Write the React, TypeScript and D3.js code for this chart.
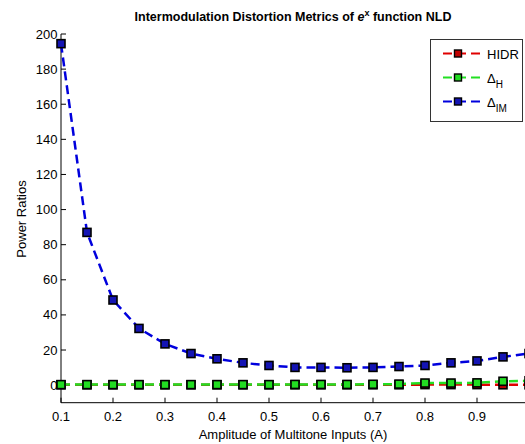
import { useMemo } from "react";
import * as d3 from "d3";

// ── Data ─────────────────────────────────────────────
const AMPLITUDE = [0.1, 0.15, 0.2, 0.25, 0.3, 0.35, 0.4, 0.45, 0.5, 0.55, 0.6, 0.65, 0.7, 0.75, 0.8, 0.85, 0.9, 0.95, 1.0];
const HIDR = [0.2, 0.2, 0.2, 0.2, 0.2, 0.2, 0.2, 0.2, 0.2, 0.2, 0.2, 0.2, 0.2, 0.2, 0.3, 0.3, 0.3, 0.2, 0.2];
const DELTA_H = [0.3, 0.3, 0.3, 0.3, 0.3, 0.3, 0.3, 0.3, 0.3, 0.4, 0.4, 0.4, 0.5, 0.6, 1.2, 1.2, 1.3, 2.2, 2.5];
const DELTA_IM = [194.5, 87, 48.5, 32.3, 23.5, 18, 15, 12.7, 11.2, 10.1, 10.1, 9.9, 10.1, 10.6, 11.2, 12.7, 13.8, 16.1, 18];

// 1.0 sits just past the window's right edge, so its label is not shown
const X_TICKS = [0.1, 0.2, 0.3, 0.4, 0.5, 0.6, 0.7, 0.8, 0.9];
const Y_TICKS = [0, 20, 40, 60, 80, 100, 120, 140, 160, 180, 200];

const SERIES = [
  { key: "HIDR", values: HIDR, line: "#e00000", face: "#c00000" },
  { key: "H", values: DELTA_H, line: "#22e022", face: "#22dd22" },
  { key: "IM", values: DELTA_IM, line: "#0000dd", face: "#1414b4" },
];

// ── Geometry ─────────────────────────────────────────
const W = 525;
const H = 444;
const PLOT = { left: 61, right: 529, top: 34, bottom: 402.7 };
const FONT = "'Liberation Sans', Arial, Helvetica, sans-serif";
const MS = 8;

export default function App() {
  const x = useMemo(() => d3.scaleLinear().domain([0.1, 1.0]).range([PLOT.left, PLOT.right]), []);
  const y = useMemo(() => d3.scaleLinear().domain([-10, 200]).range([PLOT.bottom, PLOT.top]), []);

  const line = d3
    .line<number>()
    .x((_, i) => x(AMPLITUDE[i]))
    .y((d) => y(d));

  const fmt = d3.format(".1f");

  return (
    <div style={{ position: "absolute", left: 0, top: 0, width: W, height: H, background: "#fff" }}>
      <svg width={W} height={H} style={{ display: "block", fontFamily: FONT }}>
        <rect width={W} height={H} fill="#fff" />

        {/* Title */}
        <text x={293} y={20.5} textAnchor="middle" fontSize={12.5} fontWeight="bold" fill="#000">
          Intermodulation Distortion Metrics of{" "}
          <tspan fontStyle="italic">e</tspan>
          <tspan fontSize={9} dy={-5}>x</tspan>
          <tspan dy={5}> function NLD</tspan>
        </text>

        {/* Axes */}
        <line x1={PLOT.left} x2={W} y1={PLOT.bottom} y2={PLOT.bottom} stroke="#000" strokeWidth={1} />
        <line x1={PLOT.left} x2={PLOT.left} y1={PLOT.top} y2={PLOT.bottom} stroke="#000" strokeWidth={1} />

        {X_TICKS.map((t) => (
          <g key={`xt-${t}`}>
            <line x1={x(t)} x2={x(t)} y1={PLOT.bottom} y2={PLOT.bottom - 5} stroke="#000" />
            <text x={x(t)} y={420.5} textAnchor="middle" fontSize={13} fill="#000">
              {fmt(t)}
            </text>
          </g>
        ))}
        {Y_TICKS.map((t) => (
          <g key={`yt-${t}`}>
            <line x1={PLOT.left} x2={PLOT.left + 5} y1={y(t)} y2={y(t)} stroke="#000" />
            <text x={57.5} y={y(t) + 4.5} textAnchor="end" fontSize={13} fill="#000">
              {t}
            </text>
          </g>
        ))}

        {/* Axis labels */}
        <text x={293} y={438.5} textAnchor="middle" fontSize={13} fill="#000">
          Amplitude of Multitone Inputs (A)
        </text>
        <text
          transform={`translate(25.5, 219) rotate(-90)`}
          textAnchor="middle"
          fontSize={13}
          fill="#000"
        >
          Power Ratios
        </text>

        {/* Series */}
        <g>
          {SERIES.map((s) => (
            <g key={s.key}>
              <path
                d={line(s.values) ?? ""}
                fill="none"
                stroke={s.line}
                strokeWidth={2.5}
                strokeDasharray="9,5"
              />
              {s.values.map((v, i) => (
                <rect
                  key={i}
                  x={x(AMPLITUDE[i]) - MS / 2}
                  y={y(v) - MS / 2}
                  width={MS}
                  height={MS}
                  fill={s.face}
                  stroke="#000"
                  strokeWidth={1.6}
                />
              ))}
            </g>
          ))}
        </g>

        {/* Legend */}
        <g>
          <rect x={430.5} y={39.5} width={92} height={82} fill="#fff" stroke="#333" strokeWidth={1} />
          {SERIES.map((s, i) => {
            const ly = 53.5 + i * 24;
            return (
              <g key={`lg-${s.key}`}>
                <line x1={443} x2={482} y1={ly} y2={ly} stroke={s.line} strokeWidth={2} strokeDasharray="9,5" />
                <rect x={458 - 3.5} y={ly - 3.5} width={7} height={7} fill={s.face} stroke="#000" strokeWidth={1.4} />
                <text x={487} y={ly + 5} fontSize={13} fill="#000">
                  {s.key === "HIDR" ? (
                    "HIDR"
                  ) : (
                    <>
                      Δ<tspan fontSize={10} dy={5}>{s.key}</tspan>
                    </>
                  )}
                </text>
              </g>
            );
          })}
        </g>
      </svg>
    </div>
  );
}
